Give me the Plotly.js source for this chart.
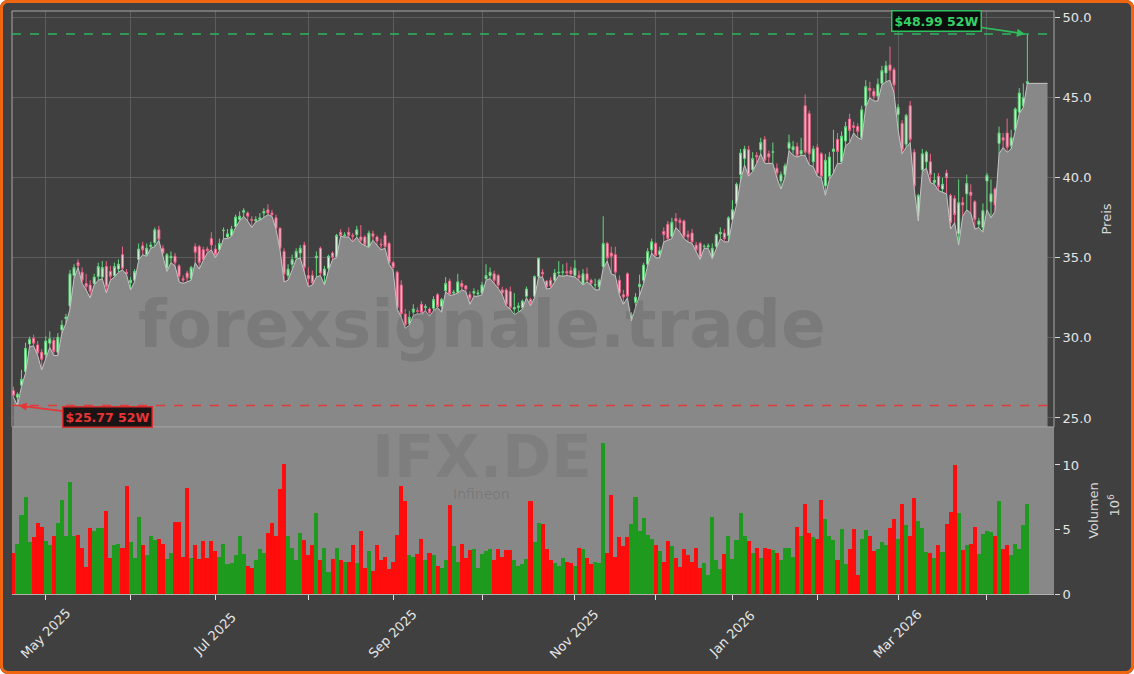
<!DOCTYPE html>
<html><head><meta charset="utf-8">
<script src="https://cdn.plot.ly/plotly-3.0.1.min.js"></script>
<style>
html,body{margin:0;padding:0;background:#ffffff;}
#wrap{position:relative;width:1134px;height:674px;}
#chart{width:1134px;height:674px;border-radius:8px;overflow:hidden;}
#frame{position:absolute;left:0;top:0;width:1134px;height:674px;box-sizing:border-box;border:3px solid #f0650f;border-radius:8px;pointer-events:none;}
</style></head><body>
<div id="wrap"><div id="chart"></div><div id="frame"></div></div>
<script>
// ---- data (IFX.DE, daily, 52 weeks) ----
const firstDay = '2025-04-17';
const exchangeHolidays = ['2025-04-18','2025-04-21','2025-05-01','2025-12-24','2025-12-25','2025-12-26','2025-12-31','2026-01-01','2026-04-03','2026-04-06'];
const monthLabels = ['May 2025','','Jul 2025','','Sep 2025','','Nov 2025','','Jan 2026','','Mar 2026',''];

const openP = [26.7,26.3,27.05,27.9,29.62,29.98,29.56,29.1,28.94,29.67,
29.83,29.1,30.5,31.2,32.0,33.9,34.7,34.1,33.4,33.3,
33.4,33.83,33.8,34.46,34.15,33.9,34.3,35.2,34.1,33.45,
33.6,34.9,35.75,35.2,35.7,35.96,36.75,35.6,34.35,35.0,
35.1,34.5,33.7,34.05,33.7,35.7,35.7,35.5,35.55,36.2,
35.55,35.5,36.7,36.3,36.4,36.95,37.4,37.85,37.8,37.4,
37.3,37.4,37.8,38.0,37.8,37.5,36.85,35.4,33.9,34.6,
35.0,35.3,35.8,33.9,33.9,35.0,35.6,33.9,34.35,35.3,
35.05,36.6,36.4,36.6,36.4,36.45,36.3,36.3,35.7,36.5,
36.3,35.85,36.4,35.9,34.7,34.1,33.3,31.5,30.9,31.6,
31.7,32.1,31.9,31.8,31.85,32.7,31.97,32.95,33.55,32.8,
32.85,33.4,33.25,32.7,32.8,32.75,32.8,33.7,33.9,34.0,
33.9,33.0,33.0,32.9,31.8,31.9,31.9,32.6,32.4,32.6,
33.83,34.1,33.55,33.6,33.6,34.05,34.1,34.15,34.2,33.9,
33.9,33.4,34.0,33.6,33.3,33.2,34.45,35.9,35.3,35.2,
33.6,32.7,34.0,31.1,32.2,33.2,33.6,34.6,35.5,35.9,
35.2,36.65,37.1,36.33,37.45,37.35,37.3,36.45,36.55,35.8,
35.9,35.7,35.7,35.0,35.7,36.5,36.55,36.4,37.4,38.4,
40.2,41.2,41.75,40.5,41.4,41.75,42.4,41.5,41.6,40.6,
39.8,40.2,41.85,41.75,41.95,41.5,44.5,44.0,41.0,41.9,
41.5,39.5,40.1,41.65,42.4,41.0,42.3,43.67,43.25,43.2,
42.5,44.5,45.6,45.4,45.1,45.9,46.55,47.05,46.75,43.95,
43.4,42.1,44.5,41.6,37.6,40.5,41.0,41.0,39.7,40.1,
39.3,40.3,38.9,38.7,36.5,38.45,39.0,39.1,38.5,37.1,
36.9,39.8,38.5,39.3,42.15,42.5,42.8,42.0,43.0,44.1,
44.5,45.9];
const highP = [26.95,26.6,28.0,29.7,30.08,30.2,29.8,29.3,30.1,30.4,
30.0,30.3,31.1,31.5,34.25,34.6,34.9,34.4,34.0,33.6,
34.0,34.7,34.8,34.8,34.5,34.7,34.9,35.7,34.3,33.8,
34.3,35.9,36.0,35.9,36.0,36.9,37.0,35.8,35.3,35.4,
35.3,34.6,33.9,34.2,34.5,35.9,35.8,35.7,35.7,36.6,
35.8,36.2,36.9,36.8,37.0,37.7,37.9,38.1,37.9,37.6,
37.6,37.8,38.1,38.35,38.0,37.7,36.9,35.6,34.6,35.2,
35.6,35.8,36.0,34.4,34.2,35.4,35.7,34.5,35.2,35.4,
36.5,36.8,36.6,36.9,36.55,37.0,37.05,36.4,36.7,36.7,
36.4,36.2,36.6,36.0,34.8,34.2,33.6,31.8,31.7,32.1,
31.9,32.3,32.1,31.9,32.6,32.8,32.5,33.8,33.7,33.0,
34.0,33.6,33.3,32.9,33.1,33.0,33.5,34.6,34.4,34.2,
34.0,33.2,33.1,33.2,32.8,32.2,32.4,33.2,32.5,33.9,
35.0,34.3,33.6,33.8,34.3,34.8,34.6,34.7,34.45,34.85,
34.2,34.3,34.4,33.7,33.7,33.7,37.6,36.0,35.7,35.7,
33.9,33.0,34.1,31.6,32.8,33.95,34.7,35.6,36.2,36.0,
35.7,36.9,37.3,37.5,37.8,37.5,37.4,36.7,36.8,36.0,
36.0,35.85,35.9,35.9,36.5,36.9,36.8,37.6,38.6,39.7,
41.8,42.0,42.0,41.6,41.6,42.5,42.6,41.7,42.2,40.9,
40.4,40.9,42.7,42.3,42.2,42.5,45.2,44.2,42.0,42.1,
41.6,41.5,41.6,43.0,42.8,42.9,43.5,44.0,43.5,43.4,
44.5,46.1,46.0,45.6,46.2,47.0,47.3,48.2,46.9,44.6,
43.6,44.0,44.8,41.8,39.0,41.8,41.7,41.5,40.3,40.3,
40.0,40.5,39.0,38.9,39.9,38.8,40.2,39.6,38.6,37.5,
38.4,40.3,39.9,39.4,43.2,42.8,43.7,43.0,44.4,45.6,
45.9,48.99];
const lowP = [26.3,25.77,26.95,27.8,29.46,29.5,28.9,28.0,28.7,29.4,
28.9,28.9,30.3,30.9,31.8,33.7,34.4,33.4,33.0,32.5,
33.3,33.6,33.7,32.8,33.6,33.8,34.1,34.25,33.95,33.0,
33.5,34.85,35.2,35.1,35.6,35.7,36.1,35.2,34.15,34.7,
34.5,33.5,33.4,33.5,33.6,34.7,34.3,34.85,35.3,35.5,
35.0,35.45,36.2,36.2,36.35,36.9,37.3,37.6,37.3,36.9,
37.25,37.35,37.5,37.7,37.6,36.8,35.5,33.5,33.6,34.3,
34.9,35.0,34.1,33.2,33.3,33.8,33.9,33.3,34.2,34.9,
35.0,36.35,36.3,36.3,36.0,36.3,35.9,35.75,35.65,36.1,
35.8,35.5,35.6,34.6,34.2,31.8,31.3,30.6,30.8,31.4,
31.5,31.5,31.7,31.35,31.7,31.9,31.6,32.9,32.65,32.7,
32.8,33.0,32.9,32.1,32.6,32.6,32.7,33.6,33.7,33.4,
33.1,32.7,32.0,31.8,31.45,31.6,31.8,32.5,32.0,32.5,
33.8,33.8,33.05,33.1,33.5,33.9,33.85,33.9,33.85,33.8,
33.6,33.3,33.5,33.3,33.0,33.0,34.35,34.8,34.0,33.9,
32.7,32.1,32.5,31.05,31.9,32.6,33.4,34.5,35.3,35.0,
35.0,36.0,36.1,36.2,36.9,36.6,36.2,36.0,35.9,35.4,
34.9,35.6,35.6,34.95,35.6,36.2,36.0,36.0,37.3,38.3,
39.8,40.8,40.1,40.4,40.9,41.5,40.9,40.9,40.9,40.0,
39.3,40.0,41.7,41.4,41.3,41.4,41.4,40.8,40.7,40.1,
40.0,38.9,39.9,40.3,40.9,40.9,42.0,42.2,42.8,42.5,
42.4,44.4,45.0,44.8,44.8,45.8,46.0,46.1,45.3,43.0,
41.5,41.9,42.2,39.3,37.3,40.4,40.6,39.7,39.6,39.2,
39.1,39.0,36.8,37.2,35.8,37.6,38.0,37.8,36.8,36.9,
36.6,38.0,37.5,37.9,41.5,41.9,41.6,41.8,42.9,44.0,
44.4,45.9];
const closeP = [26.4,26.48,27.4,29.35,29.92,29.67,29.08,28.67,29.81,29.94,
29.15,30.04,30.8,31.3,34.0,34.4,34.5,33.6,33.2,32.9,
33.8,34.46,34.4,33.21,33.85,34.46,34.6,34.35,34.0,33.6,
34.15,35.55,35.5,35.6,35.8,36.75,36.17,35.3,35.2,35.1,
34.7,33.85,33.6,33.75,34.4,35.35,34.7,34.9,35.45,35.8,
35.2,35.9,36.72,36.5,36.8,37.55,37.6,37.95,37.6,37.35,
37.4,37.5,37.9,37.8,37.7,36.85,35.6,34.0,34.3,34.9,
35.4,35.6,34.4,33.7,33.45,35.1,34.05,34.3,35.1,35.05,
36.4,36.4,36.42,36.4,36.35,36.75,36.1,35.85,36.55,36.35,
36.05,35.8,35.7,34.7,34.4,31.9,31.5,30.8,31.3,31.8,
31.65,31.6,31.95,31.55,32.4,31.95,32.4,33.4,32.75,32.85,
33.5,33.2,33.05,32.45,32.9,32.8,33.3,33.9,34.1,33.6,
33.3,32.8,32.1,31.9,31.9,32.0,32.3,33.05,32.2,33.83,
34.98,34.0,33.2,33.25,34.05,34.1,34.12,34.05,34.0,34.35,
33.75,34.0,33.6,33.4,33.32,33.6,35.9,35.0,35.1,34.1,
32.8,32.55,32.6,31.45,32.55,33.35,34.55,35.4,36.0,35.15,
35.45,36.45,36.2,37.23,37.3,37.2,36.35,36.3,36.0,35.5,
35.0,35.72,35.75,35.6,36.45,36.6,36.2,37.5,38.0,39.6,
41.55,41.8,40.2,41.2,41.3,42.2,41.1,41.3,41.62,40.3,
40.2,40.75,42.2,41.95,41.4,41.7,41.6,41.5,41.8,40.3,
40.1,41.1,41.3,41.8,41.65,42.6,43.2,42.96,43.15,42.9,
44.25,45.7,45.45,45.1,45.85,46.7,47.0,46.7,45.8,44.4,
41.75,43.9,42.4,39.5,38.9,41.5,41.6,40.2,39.85,39.45,
39.6,40.0,37.2,37.7,38.45,38.3,39.65,38.9,37.4,37.3,
37.95,40.15,39.0,38.3,42.8,42.35,41.9,42.5,44.3,45.3,
45.0,46.0];
// volume in millions
const volumeM = [3.2,3.9,6.1,7.5,4.0,4.4,5.5,5.2,4.1,3.8,
4.5,5.5,7.3,4.5,8.7,4.5,4.6,3.6,2.1,5.1,
4.9,5.1,5.1,6.4,2.8,3.8,3.9,3.6,8.4,4.0,
2.8,6.0,3.8,3.0,4.5,4.2,4.3,3.9,2.7,3.2,
5.6,5.6,2.9,8.2,2.8,3.8,2.7,4.1,2.8,4.1,
3.3,2.9,3.9,2.3,2.4,3.0,4.5,3.1,2.2,2.0,
2.6,3.5,3.2,4.7,5.5,4.5,8.1,10.1,4.5,3.6,
2.6,4.7,4.2,3.0,3.8,6.3,2.6,3.6,1.7,2.7,
3.6,2.6,2.5,2.5,3.8,2.4,4.9,2.0,3.3,1.8,
3.8,2.6,2.9,1.9,2.5,4.6,8.4,7.2,3.0,2.9,
3.1,4.3,2.6,3.2,3.0,2.2,2.0,2.6,6.9,3.7,
2.5,3.9,2.8,3.4,3.5,2.0,3.1,3.3,3.5,2.6,
3.5,2.9,3.4,3.4,2.6,2.2,2.3,2.7,7.2,4.0,
5.5,5.4,3.5,2.6,2.4,2.2,2.8,2.5,2.4,2.2,
3.6,3.5,2.8,2.3,2.5,2.4,11.7,3.2,7.7,2.9,
4.4,3.7,4.4,5.4,7.5,4.9,5.9,4.6,4.3,3.8,
3.3,2.5,4.1,3.7,2.8,2.1,3.5,3.0,2.5,3.6,
2.0,2.4,1.5,6.0,2.6,1.9,3.1,4.5,2.7,4.2,
6.3,4.5,4.1,3.2,3.6,2.8,3.6,3.5,3.4,3.2,
2.6,3.6,3.6,2.9,5.2,4.5,7.0,4.7,4.4,4.3,
7.3,5.8,4.5,4.2,2.6,5.0,2.3,3.49,5.01,1.47,
4.24,4.96,4.5,3.33,3.49,4.0,3.8,5.12,5.81,4.24,
6.98,5.32,4.5,7.44,5.66,5.12,3.23,3.18,2.76,3.8,
3.23,5.43,6.33,10.0,6.25,3.41,3.8,3.88,5.19,3.1,
4.65,4.88,4.78,4.5,7.21,3.49,3.8,3.02,3.88,3.49,
5.35,6.98];

// ---- derived trading-day calendar ----
function tradingDays(start, n, hol) {
  const out = [];
  const d = new Date(start + 'T12:00:00Z');
  while (out.length < n) {
    const wd = d.getUTCDay();
    const s = d.toISOString().slice(0, 10);
    if (wd !== 0 && wd !== 6 && hol.indexOf(s) < 0) out.push(s);
    d.setUTCDate(d.getUTCDate() + 1);
  }
  return out;
}
const dates = tradingDays(firstDay, closeP.length, exchangeHolidays);
const idx = dates.map((_, i) => i);
const monthStart = [];
for (let i = 1; i < dates.length; i++) if (dates[i].slice(5, 7) !== dates[i - 1].slice(5, 7)) monthStart.push(i);
const last = closeP.length - 1;
const hi52 = Math.max(...highP), lo52 = Math.min(...lowP);
const iHi = highP.indexOf(hi52), iLo = lowP.indexOf(lo52);
const volColors = closeP.map((c, i) => c >= openP[i] ? '#1e9b1e' : '#ff0c0c');

const fillTrace = {
  x: idx.concat([last + 5]), y: lowP.concat([lowP[last]]),
  type: 'scatter', mode: 'lines', fill: 'tozeroy', fillcolor: '#888888',
  line: {color: '#c4c4c4', width: 1}, xaxis: 'x', yaxis: 'y', hoverinfo: 'skip'
};
const candles = {
  x: idx, open: openP, high: highP, low: lowP, close: closeP, text: dates,
  type: 'candlestick', xaxis: 'x', yaxis: 'y', whiskerwidth: 0,
  increasing: {line: {color: '#62d67c', width: 1}, fillcolor: '#dcf5df'},
  decreasing: {line: {color: '#f0648a', width: 1}, fillcolor: '#f6cdd7'}
};
const vol = {
  x: idx, y: volumeM, type: 'bar', xaxis: 'x2', yaxis: 'y2',
  marker: {color: volColors, line: {width: 0}}, width: 1, hovertext: dates
};

const FONT = 'DejaVu Sans, sans-serif';
const TXT = '#e6e6e6';
const xr = [-0.35, 257.6];
const volTop = 0.2866;

const annotations = [
  {xref: 'paper', yref: 'paper', x: 0.451, y: 0.462, text: '<b>forexsignale.trade</b>', showarrow: false,
   font: {family: FONT, size: 66, color: 'rgba(0,0,0,0.10)'}, xanchor: 'center', yanchor: 'middle'},
  {xref: 'paper', yref: 'paper', x: 0.451, y: 0.236, text: '<b>IFX.DE</b>', showarrow: false,
   font: {family: FONT, size: 59, color: 'rgba(0,0,0,0.07)'}, xanchor: 'center', yanchor: 'middle'},
  {xref: 'paper', yref: 'paper', x: 0.451, y: 0.171, text: 'Infineon', showarrow: false,
   font: {family: FONT, size: 14, color: 'rgba(0,0,0,0.12)'}, xanchor: 'center', yanchor: 'middle'},
  {xref: 'x', yref: 'y', x: iHi - 0.6, y: hi52, ax: -88, ay: -13, text: '<b>$' + hi52.toFixed(2) + ' 52W</b>',
   showarrow: true, arrowhead: 2, arrowsize: 1, arrowwidth: 1.6, arrowcolor: '#2fc05e',
   font: {family: FONT, size: 12.5, color: '#34d264'}, bgcolor: '#0c0c0c', bordercolor: '#2fc05e', borderwidth: 1.5, borderpad: 2},
  {xref: 'x', yref: 'y', x: iLo + 0.3, y: lo52, ax: 89, ay: 11, text: '<b>$' + lo52.toFixed(2) + ' 52W</b>',
   showarrow: true, arrowhead: 2, arrowsize: 1, arrowwidth: 1.6, arrowcolor: '#e83434',
   font: {family: FONT, size: 12.5, color: '#e83434'}, bgcolor: '#1a1414', bordercolor: '#d83030', borderwidth: 1.5, borderpad: 2},
  {xref: 'paper', yref: 'paper', x: 1.0578, y: 0.152, text: '10<sup>6</sup>', showarrow: false, textangle: -90,
   font: {family: FONT, size: 13, color: '#d8d8d8'}, xanchor: 'center', yanchor: 'middle'}
];
monthStart.forEach((m, k) => {
  if (monthLabels[k]) annotations.push({
    xref: 'x2', yref: 'paper', x: m, y: -0.0686, text: monthLabels[k], showarrow: false, textangle: -45,
    font: {family: FONT, size: 13, color: TXT}, xanchor: 'center', yanchor: 'middle'
  });
});

const layout = {
  width: 1134, height: 674,
  paper_bgcolor: '#404040', plot_bgcolor: '#404040',
  margin: {l: 12.3, r: 80, t: 11.3, b: 80, pad: 0},
  showlegend: false, bargap: 0,
  font: {family: FONT, color: TXT, size: 13},
  xaxis: {
    anchor: 'y', domain: [0, 1], range: xr, type: 'linear',
    tickvals: monthStart, showticklabels: false, ticks: '',
    showgrid: true, gridcolor: '#5d5d5d', gridwidth: 1, zeroline: false, showline: false,
    rangeslider: {visible: false}
  },
  yaxis: {
    anchor: 'x', domain: [volTop, 1], side: 'right', range: [24.44, 50.42],
    tickvals: [25, 30, 35, 40, 45, 50], tickformat: '.1f',
    ticks: 'outside', ticklen: 5, tickcolor: '#d8d8d8', tickwidth: 1,
    showgrid: true, gridcolor: '#5d5d5d', zeroline: false, showline: false,
    tickfont: {family: FONT, color: TXT, size: 13},
    title: {text: 'Preis', font: {family: FONT, color: '#d8d8d8', size: 13}, standoff: 11}
  },
  xaxis2: {
    anchor: 'y2', domain: [0, 1], range: xr, type: 'linear',
    tickvals: monthStart, showticklabels: false,
    ticks: 'outside', ticklen: 5, tickcolor: '#e0e0e0', tickwidth: 1,
    showgrid: false, zeroline: false, showline: true, linecolor: '#b0b0b0', linewidth: 1
  },
  yaxis2: {
    anchor: 'x2', domain: [0, volTop], side: 'right', range: [0, 12.95],
    tickvals: [0, 5, 10], ticks: 'outside', ticklen: 5, tickcolor: '#d8d8d8',
    showgrid: false, zeroline: false, showline: false,
    tickfont: {family: FONT, color: TXT, size: 13},
    title: {text: 'Volumen', font: {family: FONT, color: '#d8d8d8', size: 13}, standoff: 10}
  },
  shapes: [
    {type: 'rect', xref: 'x2 domain', yref: 'y2 domain', x0: 0, x1: 1, y0: 0, y1: 1,
     fillcolor: '#888888', line: {width: 0}, layer: 'below'},
    {type: 'rect', xref: 'x domain', yref: 'y domain', x0: 0, x1: 1, y0: 0, y1: 1,
     fillcolor: 'rgba(0,0,0,0)', line: {color: '#a8a8a8', width: 1}, layer: 'above'},
    {type: 'line', xref: 'x domain', yref: 'y', x0: 0, x1: 1, y0: hi52, y1: hi52,
     line: {color: '#2fb45c', width: 1.5, dash: 'dash'}},
    {type: 'line', xref: 'x domain', yref: 'y', x0: 0, x1: 1, y0: lo52, y1: lo52,
     line: {color: '#e03a3a', width: 1.5, dash: 'dash'}}
  ],
  annotations: annotations
};

Plotly.newPlot('chart', [fillTrace, candles, vol], layout, {displayModeBar: false, staticPlot: true});
</script>
</body></html>
